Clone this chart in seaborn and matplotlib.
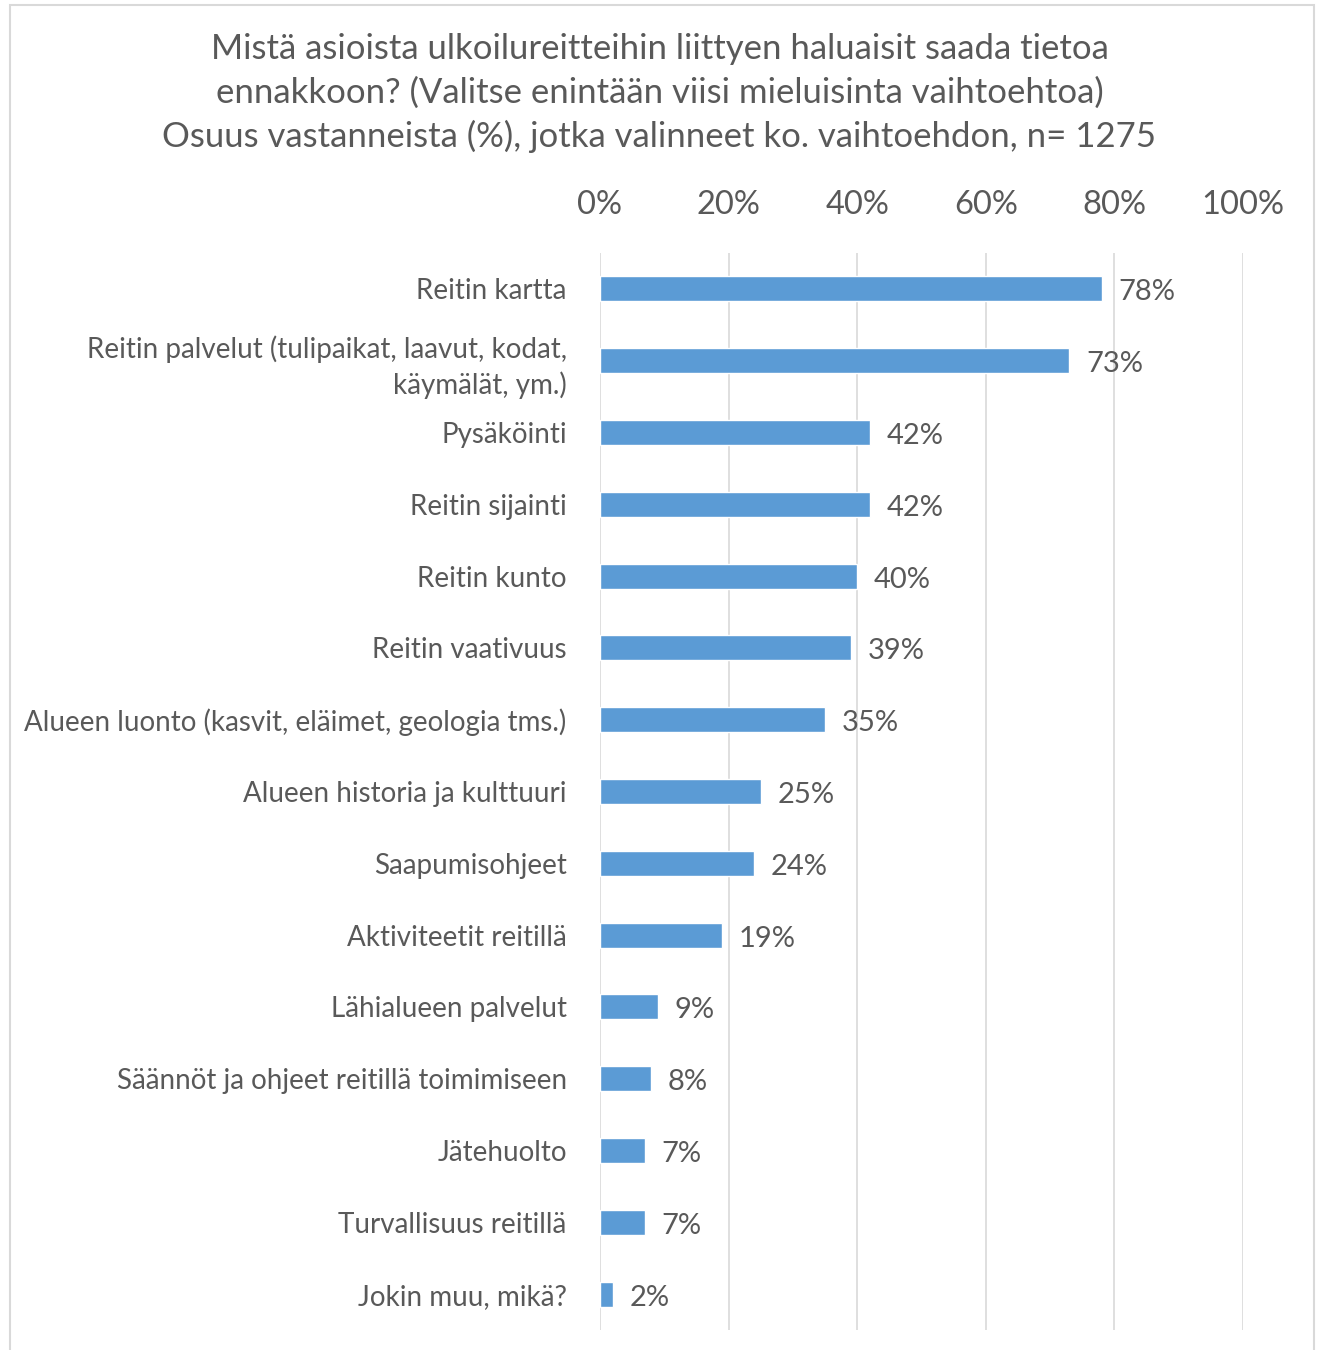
import pandas as pd
import matplotlib
matplotlib.use("Agg")
import matplotlib.pyplot as plt
from matplotlib.patches import Rectangle
import seaborn as sns

sns.set_theme(style="white")
plt.rcParams['font.family'] = ['Lato', 'DejaVu Sans']

## Data ##
categories = [
    "Reitin kartta",
    "Reitin palvelut (tulipaikat, laavut, kodat,\nkäymälät, ym.)",
    "Pysäköinti",
    "Reitin sijainti",
    "Reitin kunto",
    "Reitin vaativuus",
    "Alueen luonto (kasvit, eläimet, geologia tms.)",
    "Alueen historia ja kulttuuri",
    "Saapumisohjeet",
    "Aktiviteetit reitillä",
    "Lähialueen palvelut",
    "Säännöt ja ohjeet reitillä toimimiseen",
    "Jätehuolto",
    "Turvallisuus reitillä",
    "Jokin muu, mikä?",
]
shares = [78, 73, 42, 42, 40, 39, 35, 25, 24, 19, 9, 8, 7, 7, 2]
tick_values = [0, 20, 40, 60, 80, 100]
tick_labels = ["0%", "20%", "40%", "60%", "80%", "100%"]

title = ("Mistä asioista ulkoilureitteihin liittyen haluaisit saada tietoa\n"
         "ennakkoon? (Valitse enintään viisi mieluisinta vaihtoehtoa)\n"
         "Osuus vastanneista (%), jotka valinneet ko. vaihtoehdon, n= 1275")

df = pd.DataFrame({"Vaihtoehto": categories, "Osuus": shares})

text_col = "#595959"
bar_col = "#5B9BD5"
grid_col = "#D9D9D9"

fig = plt.figure(figsize=(13.19, 13.5), dpi=100)
ax = fig.add_axes([600 / 1319, 1 - 1330 / 1350, 643 / 1319, 1077 / 1350])

sns.barplot(data=df, x="Osuus", y="Vaihtoehto", orient="h", color=bar_col,
            saturation=1, width=0.35, ax=ax)

ax.set_xlim(0, 100)
ax.set_ylim(len(categories) - 0.5, -0.5)
ax.xaxis.tick_top()
ax.set_xticks(tick_values)
ax.set_xticklabels(tick_labels, fontsize=23.5, color=text_col)
ax.tick_params(axis="x", length=0, pad=24)
ax.tick_params(axis="y", length=0, pad=24, labelsize=20, labelcolor=text_col)
for lab in ax.get_yticklabels():
    lab.set_horizontalalignment("right")
    lab.set_multialignment("right")
    lab.set_linespacing(1.37)
ax.set_xlabel("")
ax.set_ylabel("")
ax.grid(axis="x", color=grid_col, linewidth=1.2)
ax.set_axisbelow(True)
for s in ax.spines.values():
    s.set_visible(False)

# data labels
for i, v in enumerate(shares):
    ax.annotate("{}%".format(v), xy=(v, i), xytext=(12, -2.5), textcoords="offset points",
                va="center", ha="left", fontsize=21, color=text_col)

fig.text(0.5, 1 - 33 / 1350, title, ha="center", va="top", fontsize=25,
         color=text_col, linespacing=1.43)

# outer frame
fig.patches.append(Rectangle((10 / 1319, -0.01), 1304 / 1319, 1 - 5 / 1350 + 0.01,
                             transform=fig.transFigure, fill=False,
                             edgecolor=grid_col, linewidth=1.5))

fig.savefig("out.png", dpi=100)
